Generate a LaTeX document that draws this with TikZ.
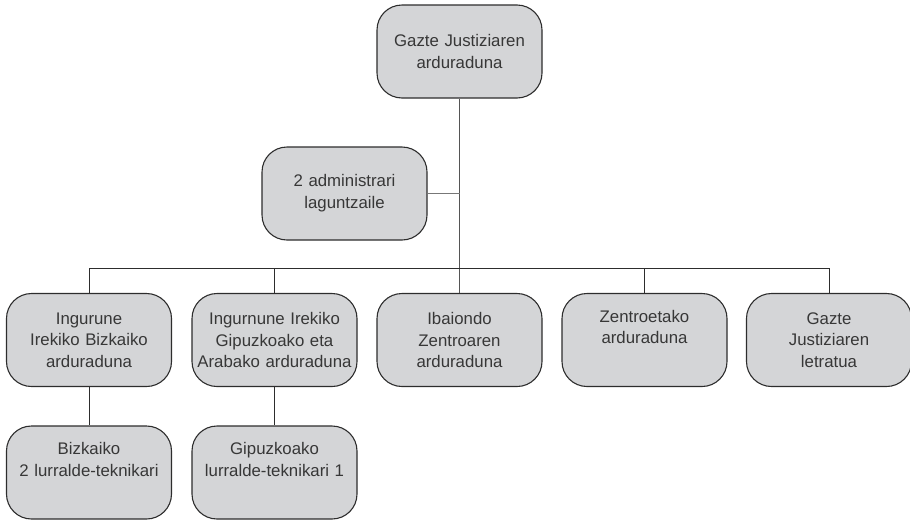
\documentclass[tikz,border=0pt]{standalone}
\usepackage{fontspec}
\setmainfont{Liberation Sans}
\usepackage{tikz}
\usepackage{xcolor}
\usetikzlibrary{positioning,calc}
\definecolor{boxgray}{RGB}{212,213,215}
\definecolor{edgegray}{RGB}{45,45,45}
\definecolor{textgray}{RGB}{55,55,55}
\definecolor{trunkgray}{RGB}{85,85,85}

\tikzset{
    orgbox/.style={draw=edgegray, fill=boxgray, rounded corners=12.5pt, line width=0.55pt,
        minimum width=82.5pt, minimum height=46.5pt, inner sep=0pt, text width=82pt,
        align=center, text=textgray, font=\fontsize{8.4}{10.85}\selectfont},
    toptext/.style={text depth=24pt},
    link/.style={draw=edgegray, line width=0.45pt},
    trunk/.style={draw=trunkgray, line width=0.7pt}
}

\begin{document}
\begin{tikzpicture}[x=0.5pt, y=-0.5pt]
    \useasboundingbox (0,0) rectangle (910,520);

    % head and staff
    \node[orgbox] (head) at (459.5,51.5) {Gazte Justiziaren\\arduraduna};
    \node[orgbox] (admin) at (344.5,193.5) {2 administrari\\laguntzaile};

    % second level
    \node[orgbox] (bizkaia) at (89,340) {Ingurune\\Irekiko Bizkaiko\\arduraduna};
    \node[orgbox] (gipuzkoa) at (274.5,340) {Ingurnune Irekiko\\Gipuzkoako eta\\Arabako arduraduna};
    \node[orgbox] (ibaiondo) at (459.5,340) {Ibaiondo\\Zentroaren\\arduraduna};
    \node[orgbox, toptext] (zentro) at (644.5,340) {Zentroetako\\arduraduna};
    \node[orgbox] (letratua) at (829,340) {Gazte\\Justiziaren\\letratua};

    % third level
    \node[orgbox, toptext] (bizktek) at (89,472.5) {Bizkaiko\\2 lurralde-teknikari};
    \node[orgbox, toptext] (giptek) at (274.5,472.5) {Gipuzkoako\\lurralde-teknikari 1};

    % connectors
    \coordinate (bus) at (459.5,268);
    \draw[trunk] (head.south) -- (ibaiondo.north);
    \draw[link, draw=trunkgray!80] (admin.east) -- (admin.east -| head.south);
    \draw[link] (bizkaia.north |- bus) -- (letratua.north |- bus);
    \foreach \n in {bizkaia,gipuzkoa,zentro,letratua}
        \draw[link] (\n.north) -- (\n.north |- bus);
    \draw[link] (bizkaia.south) -- (bizktek.north);
    \draw[link] (gipuzkoa.south) -- (giptek.north);

\end{tikzpicture}
\end{document}
